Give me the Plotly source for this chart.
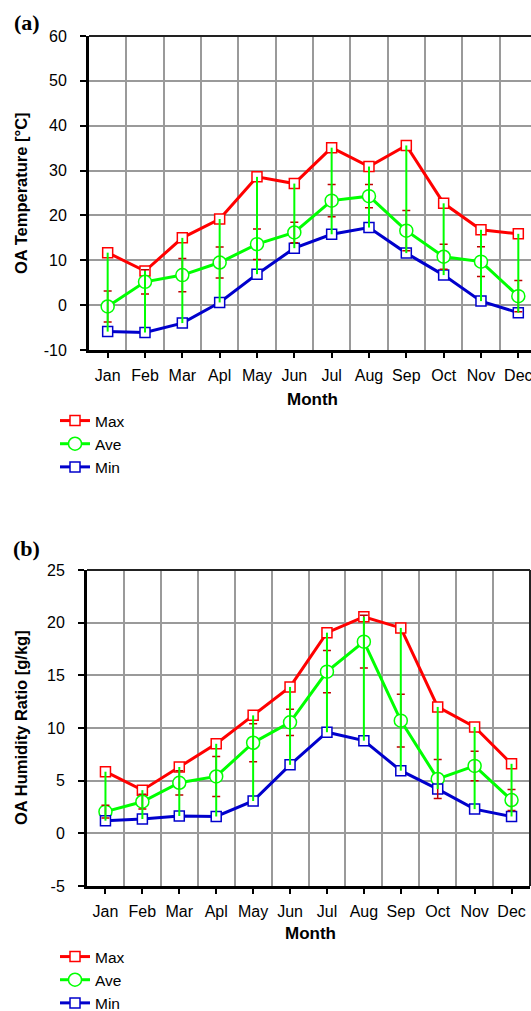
import plotly.graph_objects as go
import numpy as np

months = ["Jan", "Feb", "Mar", "Apl", "May", "Jun", "Jul", "Aug", "Sep", "Oct", "Nov", "Dec"]

# (a) Outdoor air temperature [°C]
temp_max = [11.7, 7.6, 15.0, 19.2, 28.6, 27.1, 35.1, 30.9, 35.6, 22.7, 16.8, 15.9]
temp_ave = [-0.3, 5.2, 6.7, 9.5, 13.6, 16.2, 23.3, 24.3, 16.6, 10.8, 9.7, 2.0]
temp_min = [-5.9, -6.1, -4.0, 0.6, 6.9, 12.7, 15.8, 17.3, 11.6, 6.7, 0.9, -1.7]
temp_sd = [3.45, 2.7, 3.7, 3.45, 3.4, 2.3, 3.6, 2.6, 4.5, 2.8, 3.3, 3.5]
temp_ticks = [-10, 0, 10, 20, 30, 40, 50, 60]

# (b) Outdoor air humidity ratio [g/kg]
hum_max = [5.85, 4.1, 6.3, 8.5, 11.2, 13.9, 19.05, 20.55, 19.5, 12.0, 10.1, 6.6]
hum_ave = [2.06, 3.0, 4.8, 5.4, 8.6, 10.54, 15.35, 18.2, 10.7, 5.16, 6.4, 3.16]
hum_min = [1.2, 1.36, 1.65, 1.6, 3.07, 6.5, 9.6, 8.8, 5.95, 4.2, 2.3, 1.6]
hum_sd = [0.6, 0.7, 1.15, 1.9, 1.8, 1.25, 2.0, 2.5, 2.5, 1.85, 1.4, 1.0]
hum_ticks = [-5, 0, 5, 10, 15, 20, 25]

W, H = 531, 1011
FONT = "Liberation Sans, Arial, sans-serif"
RED, GREEN, BLUE, DRED = "#ff0000", "#00ff00", "#0000cc", "#c00000"
GRID = "#9a9a9a"

x = list(range(12))

def px_x(p):
    return p / W

def px_y(p):
    return 1 - p / H

fig = go.Figure()

def add_panel(xa, ya, legend, vmax, vave, vmin, vsd):
    vmax = np.array(vmax); vave = np.array(vave); vmin = np.array(vmin)
    fig.add_trace(go.Scatter(x=x, y=vmax, mode="lines+markers", name="Max",
                             line=dict(color=RED, width=3),
                             marker=dict(symbol="square", size=10, color="white",
                                         line=dict(color=RED, width=1.5)),
                             xaxis=xa, yaxis=ya, legend=legend))
    fig.add_trace(go.Scatter(x=x, y=vave, mode="lines+markers", name="Ave",
                             line=dict(color=GREEN, width=3),
                             marker=dict(symbol="circle", size=13, color="white",
                                         line=dict(color=GREEN, width=1.5)),
                             xaxis=xa, yaxis=ya, legend=legend))
    fig.add_trace(go.Scatter(x=x, y=vmin, mode="lines+markers", name="Min",
                             line=dict(color=BLUE, width=3),
                             marker=dict(symbol="square", size=10, color="white",
                                         line=dict(color=BLUE, width=1.5)),
                             xaxis=xa, yaxis=ya, legend=legend))
    # standard deviation bars around average
    fig.add_trace(go.Scatter(x=x, y=vave, mode="markers", showlegend=False,
                             marker=dict(size=1, color="rgba(0,0,0,0)"),
                             error_y=dict(type="data", array=vsd, symmetric=True,
                                          color=DRED, thickness=1.5, width=4),
                             xaxis=xa, yaxis=ya, hoverinfo="skip"))
    # min-max range lines
    fig.add_trace(go.Scatter(x=x, y=vave, mode="markers", showlegend=False,
                             marker=dict(size=1, color="rgba(0,0,0,0)"),
                             error_y=dict(type="data", symmetric=False,
                                          array=vmax - vave, arrayminus=vave - vmin,
                                          color=GREEN, thickness=2, width=0),
                             xaxis=xa, yaxis=ya, hoverinfo="skip"))

add_panel("x", "y", "legend", temp_max, temp_ave, temp_min, temp_sd)
add_panel("x2", "y2", "legend2", hum_max, hum_ave, hum_min, hum_sd)

tickfont = dict(family=FONT, size=16, color="black")

def xaxis_def(dom, rng, anchor):
    return dict(domain=dom, range=rng, anchor=anchor, automargin=False,
                tickmode="array", tickvals=x, ticktext=months,
                ticks="outside", ticklen=5, tickwidth=1.5, tickcolor="black",
                showgrid=False, zeroline=False,
                showline=True, linecolor="black", linewidth=3,
                tickfont=tickfont, ticklabelstandoff=4, ticklabeloverflow="allow",
                minor=dict(tickmode="array", tickvals=[i + 0.5 for i in range(-1, 12)],
                           showgrid=True, gridcolor=GRID, gridwidth=2, ticks=""))

def yaxis_def(dom, rng, ticks, anchor):
    return dict(domain=dom, range=rng, anchor=anchor, automargin=False,
                tickmode="array", tickvals=ticks, ticktext=[str(t) for t in ticks],
                ticks="outside", ticklen=6, tickwidth=1.5, tickcolor="black",
                showgrid=True, gridcolor=GRID, gridwidth=2, zeroline=False,
                showline=True, linecolor="black", linewidth=3,
                tickfont=tickfont, ticklabelstandoff=10)

ya_dom = [px_y(350), px_y(36)]
yb_dom = [px_y(886), px_y(570)]

leg_font = dict(family=FONT, size=15.5, color="black")
fig.update_layout(
    width=W, height=H, margin=dict(l=0, r=0, t=0, b=0, autoexpand=False),
    paper_bgcolor="white", plot_bgcolor="white",
    xaxis=xaxis_def([px_x(89), 1.0], [-0.5, 11.34], "y"),
    yaxis=yaxis_def(ya_dom, [-10, 60], temp_ticks, "x"),
    xaxis2=xaxis_def([px_x(87), px_x(530)], [-0.5, 11.5], "y2"),
    yaxis2=yaxis_def(yb_dom, [-5, 25], hum_ticks, "x2"),
    showlegend=True,
    legend=dict(x=px_x(55), y=px_y(404), xanchor="left", yanchor="top",
                font=leg_font, bgcolor="rgba(0,0,0,0)", tracegroupgap=0, itemwidth=30),
    legend2=dict(x=px_x(55), y=px_y(940), xanchor="left", yanchor="top",
                 font=leg_font, bgcolor="rgba(0,0,0,0)", tracegroupgap=0, itemwidth=30),
)

# top / right border lines
fig.add_shape(type="line", xref="x domain", yref="y domain", x0=0, x1=1, y0=1, y1=1,
              line=dict(color="#222", width=2))
fig.add_shape(type="line", xref="x2 domain", yref="y2 domain", x0=0, x1=1, y0=1, y1=1,
              line=dict(color="#222", width=2))
fig.add_shape(type="line", xref="x2 domain", yref="y2 domain", x0=1, x1=1, y0=0, y1=1,
              line=dict(color="#222", width=2))

ann_font = dict(family=FONT, size=16.5, color="black")
fig.add_annotation(text="<b>OA Temperature [°C]</b>", x=px_x(21), y=px_y(193), xref="paper", yref="paper",
                   textangle=-90, showarrow=False, font=ann_font, xanchor="center", yanchor="middle")
fig.add_annotation(text="<b>OA Humidity Ratio [g/kg]</b>", x=px_x(21), y=px_y(728), xref="paper", yref="paper",
                   textangle=-90, showarrow=False, font=ann_font, xanchor="center", yanchor="middle")
fig.add_annotation(text="<b>Month</b>", x=px_x(312), y=px_y(400), xref="paper", yref="paper",
                   showarrow=False, font=dict(family=FONT, size=17, color="black"),
                   xanchor="center", yanchor="middle")
fig.add_annotation(text="<b>Month</b>", x=px_x(310), y=px_y(933), xref="paper", yref="paper",
                   showarrow=False, font=dict(family=FONT, size=17, color="black"),
                   xanchor="center", yanchor="middle")
lab_font = dict(family="Liberation Serif, Times New Roman, serif", size=22, color="black")
fig.add_annotation(text="<b>(a)</b>", x=px_x(27), y=px_y(22), xref="paper", yref="paper",
                   showarrow=False, font=lab_font, xanchor="center", yanchor="middle")
fig.add_annotation(text="<b>(b)</b>", x=px_x(26), y=px_y(548), xref="paper", yref="paper",
                   showarrow=False, font=lab_font, xanchor="center", yanchor="middle")

fig.write_html("out.html")
